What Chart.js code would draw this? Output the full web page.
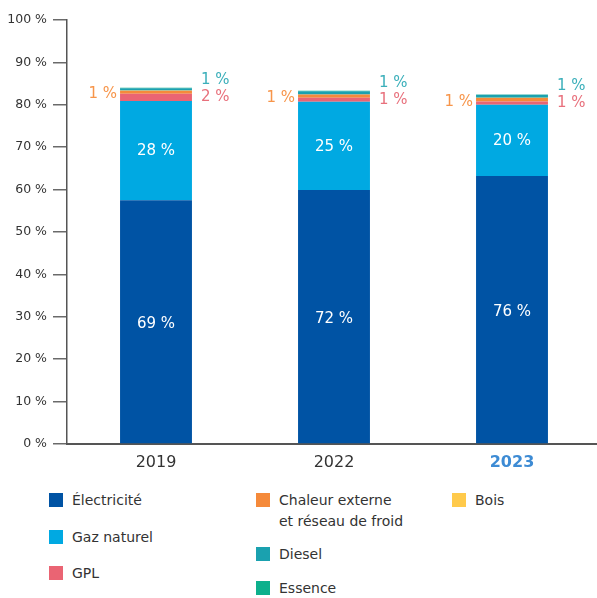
<!DOCTYPE html>
<html>
<head>
<meta charset="utf-8">
<script src="https://cdn.jsdelivr.net/npm/chart.js@4/dist/chart.umd.min.js"></script>
<style>
html,body{margin:0;padding:0;overflow:hidden;background:#fff;width:597px;height:598px;}
#wrap{position:absolute;left:0;top:0;width:601px;height:478px;}
.lg{position:absolute;font-family:"DejaVu Sans",sans-serif;font-size:14px;color:#333;line-height:21px;}
.lg .box{position:absolute;left:0;top:3px;width:14px;height:14px;}
.lg .txt{position:absolute;left:23px;top:0;white-space:nowrap;}
</style>
</head>
<body>
<div id="wrap"><canvas id="c" width="601" height="478"></canvas></div>
<div id="legend"></div>
<script>
// ---- data ----
const years = ["2019", "2022", "2023"];
const seriesNames = ["Électricité", "Gaz naturel", "GPL", "Chaleur externe\net réseau de froid", "Bois", "Diesel", "Essence"];
// bar heights (share of axis, %)
const electricite = [57.5, 59.9, 63.2];
const gazNaturel  = [23.4, 20.8, 16.8];
const gpl         = [1.7, 0.95, 0.75];
const chaleur     = [0.7, 0.75, 0.85];
const bois        = [0.05, 0.05, 0.05];
const diesel      = [0.55, 0.75, 0.7];
const essence     = [0.1, 0.1, 0.1];
// printed labels (%)
const lblElectricite = [69, 72, 76];
const lblGaz         = [28, 25, 20];
const lblGpl         = [2, 1, 1];
const lblChaleur     = [1, 1, 1];
const lblDiesel      = [1, 1, 1];
const yTicks = [0, 10, 20, 30, 40, 50, 60, 70, 80, 90, 100];

// ---- styles ----
const colors = ["#0053A4", "#00A9E2", "#EA6473", "#F58A3A", "#FFCA4B", "#1AA1AF", "#0DB08C"];
const FONT = "DejaVu Sans";
const seriesData = [electricite, gazNaturel, gpl, chaleur, bois, diesel, essence];

const datasets = seriesData.map((d, i) => ({
  label: seriesNames[i],
  data: d,
  backgroundColor: colors[i],
  borderWidth: 0,
  barPercentage: 0.404,
  categoryPercentage: 1.0,
  stack: "s"
}));

const labelPlugin = {
  id: "labels",
  afterDatasetsDraw(chart) {
    const ctx = chart.ctx;
    ctx.save();
    ctx.textBaseline = "middle";
    ctx.font = "15px '" + FONT + "'";
    const m = i => chart.getDatasetMeta(i).data;
    const fmt = v => v + " %";
    years.forEach((y, k) => {
      const e = m(0)[k], g = m(1)[k], p = m(2)[k], c = m(3)[k];
      ctx.fillStyle = "#fff"; ctx.textAlign = "center";
      ctx.fillText(fmt(lblElectricite[k]), e.x, (e.y + e.base) / 2 + 2);
      ctx.fillText(fmt(lblGaz[k]), g.x, (g.y + g.base) / 2 + 1);
      const right = p.x + p.width / 2 + 9;
      const py = (p.y + p.base) / 2;
      ctx.textAlign = "left";
      ctx.fillStyle = "#E8707C";
      ctx.fillText(fmt(lblGpl[k]), right, py);
      ctx.fillStyle = "#3BAFBA";
      ctx.fillText(fmt(lblDiesel[k]), right, py - 17);
      ctx.textAlign = "right";
      ctx.fillStyle = "#F7954A";
      ctx.fillText(fmt(lblChaleur[k]), c.x - c.width / 2 - 3, (c.y + c.base) / 2 + 2);
    });
    ctx.restore();
  }
};

new Chart(document.getElementById("c"), {
  type: "bar",
  data: { labels: years, datasets },
  options: {
    responsive: false,
    animation: false,
    layout: { padding: { top: 20, left: 0, right: 0, bottom: 0 } },
    plugins: { legend: { display: false }, tooltip: { enabled: false } },
    scales: {
      x: {
        stacked: true,
        grid: { display: false, drawTicks: false },
        border: { color: "#555", width: 2 },
        ticks: {
          padding: 9,
          color: c => c.index === 2 ? "#3D8BD4" : "#333",
          font: c => ({ family: FONT, size: 16, weight: c.index === 2 ? "bold" : "normal" })
        },
        afterFit: s => { s.height = 478 - 444; }
      },
      y: {
        stacked: true,
        min: 0, max: 100,
        afterBuildTicks: s => { s.ticks = yTicks.map(v => ({ value: v })); },
        grid: { drawOnChartArea: false, tickLength: 14, color: "#6a6a6a", lineWidth: 1.5 },
        border: { color: "#555", width: 1.5 },
        ticks: { padding: 6, color: "#333", font: { family: FONT, size: 12.5 }, callback: v => v + " %" },
        afterFit: s => { s.width = 67; }
      }
    }
  },
  plugins: [labelPlugin]
});

// ---- legend (HTML, built from series) ----
const legendSlots = [
  { left: 49, top: 490 }, { left: 49, top: 527 }, { left: 49, top: 563 },
  { left: 256, top: 490 }, { left: 452, top: 490 },
  { left: 256, top: 544 }, { left: 256, top: 578 }
];
const lg = document.getElementById("legend");
seriesNames.forEach((name, i) => {
  const d = document.createElement("div");
  d.className = "lg";
  d.style.left = legendSlots[i].left + "px";
  d.style.top = legendSlots[i].top + "px";
  const b = document.createElement("div");
  b.className = "box"; b.style.background = colors[i];
  const t = document.createElement("div");
  t.className = "txt"; t.innerHTML = name.replace("\n", "<br>");
  d.appendChild(b); d.appendChild(t); lg.appendChild(d);
});
</script>
</body>
</html>
